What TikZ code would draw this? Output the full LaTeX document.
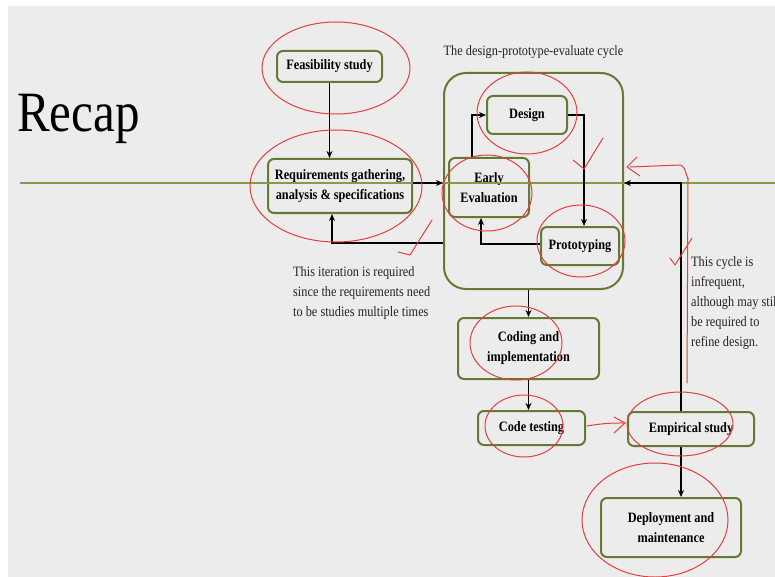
\documentclass[tikz,border=0pt]{standalone}
\usepackage{fontspec}
\setmainfont{Liberation Serif}[FakeStretch=0.86]
\usetikzlibrary{positioning}
\usetikzlibrary {arrows.meta}
\definecolor{slidegray}{RGB}{236,236,236}
\definecolor{boxgreen}{RGB}{100,122,52}
\definecolor{rulegreen}{RGB}{135,155,75}
\definecolor{inkred}{RGB}{228,62,62}
\definecolor{notegray}{RGB}{35,35,35}
\tikzset{stage/.style={rectangle,rounded corners=6pt,draw=boxgreen,line width=2pt,
inner sep=2pt,align=center,font=\fontsize{14.3}{20}\selectfont\bfseries}}
\tikzset{cyclebox/.style={rectangle,rounded corners=22pt,draw=boxgreen,line width=2pt,
inner sep=0pt,minimum width=179pt,minimum height=216pt}}
\tikzset{note/.style={inner sep=0pt,align=left,text=notegray,
font=\fontsize{14.3}{20}\selectfont}}
\tikzset{flow/.style={line width=1.6pt,-{Stealth[length=7pt,width=6pt]}}}
\tikzset{ink/.style={draw=inkred,line width=1pt,line cap=round,line join=round}}

\begin{document}
\begin{tikzpicture}[x=1pt,y=-1pt]
        \useasboundingbox (0,0) rectangle (775,577);
        \fill[white] (0,0) rectangle (775,577);
        \fill[slidegray] (8,6) rectangle (775,577);

        \node[anchor=base west,inner sep=0pt,font=\fontsize{57}{60}\selectfont] (recap) at (17,132) {Recap};

        \node[stage,minimum width=144pt,minimum height=54pt] (boxReq) at (340,186) {Requirements gathering,\\analysis \& specifications};
        \node[stage,minimum width=105pt,minimum height=31pt] (boxFeas) [above=75pt of boxReq,xshift=-10.5pt] {Feasibility study};

        \node[cyclebox] (boxCycle) at (533.5,181) {};
        \node[note,anchor=base] (cycleTitle) at ([yshift=16pt]boxCycle.north) {The design-prototype-evaluate cycle};
        \node[stage,minimum width=80pt,minimum height=38pt] (boxDesign) at (527,115) {Design};
        \node[stage,minimum width=80pt,minimum height=59pt] (boxEval) at (489,187.5) {Early\\Evaluation};
        \node[stage,minimum width=78pt,minimum height=38pt] (boxProto) at (580,246) {Prototyping};

        \node[stage,minimum width=141pt,minimum height=61pt] (boxCoding) [below=27pt of boxCycle,xshift=-5pt] {Coding and\\implementation};
        \node[stage,minimum width=107pt,minimum height=34pt] (boxTest) [below=30pt of boxCoding,xshift=3pt] {Code testing};
        \node[stage,minimum width=126pt,minimum height=34pt] (boxEmp) [right=41pt of boxTest,yshift=-1pt] {Empirical study};
        \node[stage,minimum width=140pt,minimum height=59pt] (boxDeploy) [below=50pt of boxEmp,xshift=-20pt] {Deployment and\\maintenance};

        \node[note,anchor=base west] (iterNote) at (293,316) {This iteration is required\\since the requirements need\\to be studies multiple times};
        \node[note,anchor=base west] (cycleNote) at (691,346) {This cycle is\\infrequent,\\although may still\\be required to\\refine design.};

        \draw[rulegreen,line width=2pt] (20,183) -- (775,183);

        \draw[flow] (boxFeas.south) -- (boxFeas.south |- boxReq.north);
        \draw[flow] ([yshift=3pt]boxReq.east) -- ([yshift=3pt]boxReq.east -| boxCycle.west);
        \coordinate (iterR) at ([yshift=-62pt]boxCycle.west);
        \draw[flow] (iterR) -| ([xshift=-8pt]boxReq.south);

        \draw[flow] ([xshift=-17pt]boxEval.north) |- (boxDesign.west);
        \draw[flow] (boxDesign.east) -| ([xshift=4pt]boxProto.north);
        \draw[flow] ([yshift=2pt]boxProto.west) -| ([xshift=-8pt]boxEval.south);

        \draw[flow] (boxCoding.north |- boxCycle.south) -- (boxCoding.north);
        \draw[flow] (boxCoding.south) -- (boxCoding.south |- boxTest.north);
        \draw[flow] ([xshift=-10pt]boxEmp.north) |- ([yshift=-2pt]boxCycle.east);
        \draw[flow] ([xshift=-10pt]boxEmp.south) -- ([xshift=-10pt]boxEmp.south |- boxDeploy.north);

        \draw[ink] (336,68) ellipse [x radius=74, y radius=46];
        \draw[ink] (336,186) ellipse [x radius=86, y radius=56];
        \draw[ink] (527,113) ellipse [x radius=50, y radius=41];
        \draw[ink] (487,193) ellipse [x radius=45, y radius=38];
        \draw[ink] (581,241) ellipse [x radius=44, y radius=36];
        \draw[ink] (516,343) ellipse [x radius=46, y radius=37];
        \draw[ink] (524,426) ellipse [x radius=39, y radius=31];
        \draw[ink] (680,424) ellipse [x radius=53, y radius=32];
        \draw[ink] (655,520) ellipse [x radius=73, y radius=57];

        \draw[ink] (398,252) -- (410,255) -- (432,220);
        \draw[ink] (573,160) -- (584,169) -- (603,138);
        \draw[ink] (670,258) -- (675,265) -- (692,238);
        \draw[ink] (637,157) -- (627,167) -- (640,176);
        \draw[ink] (630,167) -- (680,165) to[out=0,in=-90] (688,178) -- (687,383);
        \draw[ink] (587,426) to[bend left=5] (625,423);
        \draw[ink] (614,417) -- (625,423) -- (614,433);

    \end{tikzpicture}
\end{document}
